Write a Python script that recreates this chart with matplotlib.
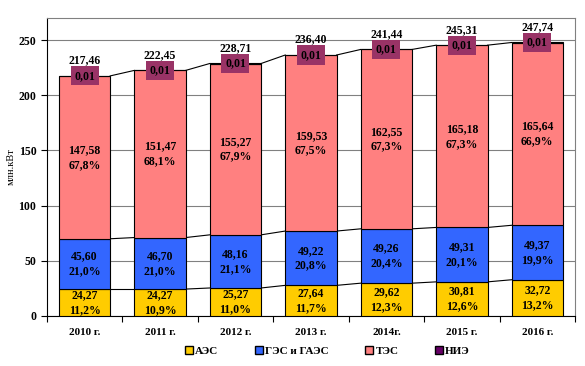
import numpy as np
import matplotlib
matplotlib.use('Agg')
from matplotlib import pyplot as plt
from matplotlib.patches import Patch

years = ['2010 г.', '2011 г.', '2012 г.', '2013 г.', '2014г.', '2015 г.', '2016 г.']
aes = [24.27, 24.27, 25.27, 27.64, 29.62, 30.81, 32.72]
aes_pct = ['11,2%', '10,9%', '11,0%', '11,7%', '12,3%', '12,6%', '13,2%']
ges = [45.60, 46.70, 48.16, 49.22, 49.26, 49.31, 49.37]
ges_pct = ['21,0%', '21,0%', '21,1%', '20,8%', '20,4%', '20,1%', '19,9%']
tes = [147.58, 151.47, 155.27, 159.53, 162.55, 165.18, 165.64]
tes_pct = ['67,8%', '68,1%', '67,9%', '67,5%', '67,3%', '67,3%', '66,9%']
nie = [0.01, 0.01, 0.01, 0.01, 0.01, 0.01, 0.01]
totals = [217.46, 222.45, 228.71, 236.40, 241.44, 245.31, 247.74]

plt.rcParams['font.family'] = ['Liberation Serif', 'DejaVu Serif']
plt.rcParams['font.weight'] = 'bold'

def fmt(v):
    return ('%.2f' % v).replace('.', ',')

fig = plt.figure(figsize=(5.85, 3.66), dpi=100)
ax = fig.add_axes([0.080, 0.137, 0.903, 0.814])

x = np.arange(len(years))
w = 0.68
aes = np.array(aes)
ges = np.array(ges)
tes = np.array(tes)
nie = np.array(nie)

ax.bar(x, aes, w, color='#FFCC00', edgecolor='black', linewidth=0.8, zorder=3)
ax.bar(x, ges, w, bottom=aes, color='#3366FF', edgecolor='black', linewidth=0.8, zorder=3)
ax.bar(x, tes, w, bottom=aes + ges, color='#FF8080', edgecolor='black', linewidth=0.8, zorder=3)
ax.bar(x, nie, w, bottom=aes + ges + tes, color='#660066', edgecolor='black', linewidth=0.8, zorder=3)

# линии рядов между столбцами
for level in [aes, aes + ges, aes + ges + tes + nie]:
    for i in range(len(x) - 1):
        ax.plot([x[i] + w / 2, x[i + 1] - w / 2], [level[i], level[i + 1]],
                color='black', linewidth=0.8, zorder=2)

fs = 8.5
for i in range(len(x)):
    ax.text(x[i], aes[i] / 2, fmt(aes[i]) + '\n' + aes_pct[i], ha='center', va='center',
            fontsize=fs, linespacing=1.3, zorder=4)
    ax.text(x[i], aes[i] + ges[i] / 2, fmt(ges[i]) + '\n' + ges_pct[i], ha='center', va='center',
            fontsize=fs, linespacing=1.3, zorder=4)
    ax.text(x[i], aes[i] + ges[i] + tes[i] / 2, fmt(tes[i]) + '\n' + tes_pct[i], ha='center',
            va='center', fontsize=fs, linespacing=1.3, zorder=4)
    top = aes[i] + ges[i] + tes[i] + nie[i]
    ax.text(x[i], top, fmt(nie[i]), ha='center', va='center', fontsize=fs, zorder=5,
            bbox=dict(boxstyle='square,pad=0.3', facecolor='#993366', edgecolor='none'))
    ax.text(x[i], totals[i] + 14, fmt(totals[i]), ha='center', va='center', fontsize=fs, zorder=5)

ax.set_xlim(-0.5, len(x) - 0.5)
ax.set_ylim(0, 270)
ax.set_yticks([0, 50, 100, 150, 200, 250])
ax.tick_params(axis='y', labelsize=8.5, length=4, direction='out')
ax.set_xticks(np.arange(-0.5, len(x) + 0.5, 1))
ax.set_xticklabels([])
ax.set_xticks(x, minor=True)
ax.set_xticklabels(years, minor=True, fontsize=8)
ax.tick_params(axis='x', which='major', length=4, direction='out')
ax.tick_params(axis='x', which='minor', length=0, pad=9)
ax.yaxis.grid(True, color='#808080', linewidth=0.8, zorder=0)
ax.set_ylabel('млн.кВт', fontsize=7.5, labelpad=2)
for s in ['top', 'right']:
    ax.spines[s].set_color('#808080')

handles = [Patch(facecolor='#FFCC00', edgecolor='black', label='АЭС'),
           Patch(facecolor='#3366FF', edgecolor='black', label='ГЭС и ГАЭС'),
           Patch(facecolor='#FF8080', edgecolor='black', label='ТЭС'),
           Patch(facecolor='#660066', edgecolor='black', label='НИЭ')]
fig.legend(handles=handles, loc='lower center', bbox_to_anchor=(0.56, 0.0), ncol=4,
           frameon=False, fontsize=8, handlelength=0.7, handleheight=0.7,
           handletextpad=0.2, columnspacing=3.3)

plt.savefig('out.png', dpi=100)
